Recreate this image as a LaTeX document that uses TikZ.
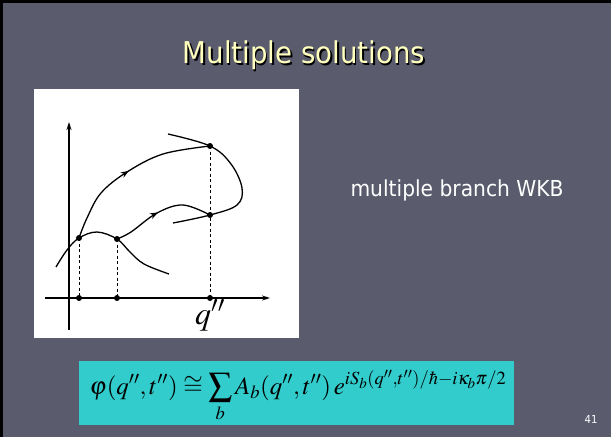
\documentclass[tikz,border=0pt]{standalone}
\usepackage{mathptmx}
\usepackage[no-math]{fontspec}
\newfontfamily\tahoma[FakeStretch=0.92]{DejaVu Sans}
\usetikzlibrary{arrows.meta,decorations.markings,shadows}
\definecolor{slidebg}{RGB}{90,92,110}
\definecolor{titleyellow}{RGB}{255,255,190}
\definecolor{formulacyan}{RGB}{51,204,204}
\newcommand{\bigsum}{\mathop{\vcenter{\hbox{\scalebox{1.35}{$\textstyle\sum$}}}}\limits}
\tikzset{
  curve/.style={line width=1.3pt, black},
  dotpt/.style={circle, fill=black, inner sep=0pt, minimum size=6pt},
  guide/.style={line width=1pt, dashed, dash pattern=on 3pt off 2.5pt},
  axis/.style={line width=1.3pt, -{Stealth[length=8pt,width=5pt]}},
  midarrow/.style={postaction={decorate, decoration={markings,
      mark=at position #1 with {\arrow{Stealth[length=8pt,width=6pt]}}}}}
}
\begin{document}
\begin{tikzpicture}[x=1pt,y=-1pt]
\useasboundingbox (0,0) rectangle (611,437);
% slide
\fill[slidebg] (0,0) rectangle (611,437);
\fill[black] (0,0) rectangle (611,3);
\fill[black] (0,0) rectangle (3,437);
% title
\node[text=black, font=\tahoma\fontsize{30}{36}\selectfont] at (305.5,57) {Multiple solutions};
\node[text=titleyellow, font=\tahoma\fontsize{30}{36}\selectfont] (title) at (304,55.5) {Multiple solutions};
% picture panel
\fill[white] (34,88.5) rectangle (299,337.5);
% axes
\coordinate (yb) at (69,330);
\coordinate (yt) at (69,122);
\coordinate (xl) at (45,298);
\coordinate (xr) at (270,298);
\draw[axis] (yb) -- (yt);
\draw[axis] (xl) -- (xr);
% points
\coordinate (A) at (79,238);
\coordinate (B) at (117,239);
\coordinate (C) at (210,146);
\coordinate (D) at (210,215);
\coordinate (a0) at (79,298);
\coordinate (b0) at (117,298);
\coordinate (c0) at (210,298);
% curves
\draw[curve] plot[smooth, tension=0.6] coordinates {(56,267) (67,250) (A) (97,232) (B) (130,252) (144,264) (169,274)};
\draw[curve, midarrow=0.5] plot[smooth, tension=0.6] coordinates {(A) (87,218) (101,193) (127,172) (163,154) (C)};
\draw[curve] plot[smooth, tension=0.6] coordinates {(168,134) (C) (231,164) (242,188) (237,205) (D) (173,223)};
\draw[curve, midarrow=0.47] plot[smooth, tension=0.6] coordinates {(B) (131,232) (157,213) (183,205) (D)};
% guides
\draw[guide] (A) -- (a0);
\draw[guide] (B) -- (b0);
\draw[guide] (C) -- (c0);
\foreach \p in {A,B,C,D,a0,b0,c0} \node[dotpt] at (\p) {};
\node[font=\fontsize{32}{36}\selectfont, anchor=base] (qlab) at (210,324) {$q''$};
% side text
\node[text=white, font=\tahoma\fontsize{22}{26}\selectfont, anchor=base west] (wkb) at (347,196) {multiple branch WKB};
% formula
\fill[formulacyan] (79,361) rectangle (514,425);
\node[font=\fontsize{25}{30}\selectfont, anchor=base] (formula) at (298,394)
  {$\varphi(q'',t'')\cong\bigsum_b A_b(q'',t'')\,e^{iS_b(q'',t'')/\hbar-i\kappa_b\pi/2}$};
% page number
\node[text=white, font=\tahoma\fontsize{11}{13}\selectfont] (pnum) at (591,419.5) {41};
\end{tikzpicture}
\end{document}
